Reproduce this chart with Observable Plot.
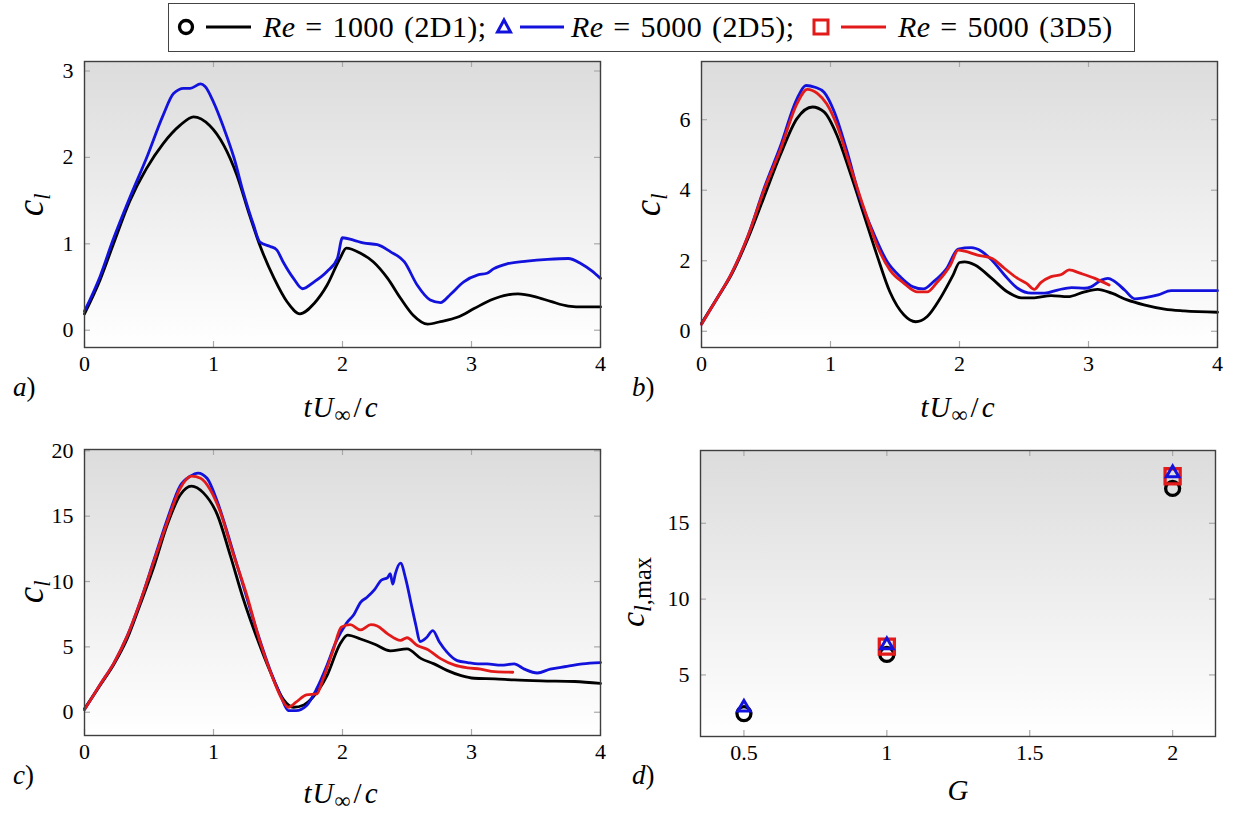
<!DOCTYPE html>
<html>
<head>
<meta charset="utf-8">
<script src="https://cdn.jsdelivr.net/npm/d3@7"></script>
<script src="https://cdn.jsdelivr.net/npm/@observablehq/plot@0.6"></script>
<style>
  body { margin: 0; background: #fff; }
  #fig { position: relative; width: 1233px; height: 814px; overflow: hidden; color: #000;
         font-family: "Liberation Serif", "DejaVu Serif", serif; }
  .panel { position: absolute; }
  .lbl { position: absolute; white-space: nowrap; line-height: 1; }
  .rot { transform: translate(-50%, -50%) rotate(-90deg); transform-origin: center; }
  .ctr { transform: translateX(-50%); }
  sub { font-size: 0.68em; vertical-align: baseline; position: relative; top: 0.3em; }
  #legend { position: absolute; left: 168px; top: 3px; width: 965px; height: 47px;
            border: 1.3px solid #444; background: #fff; }
  #legend .t { position: absolute; top: 8px; font-size: 30px; line-height: 1; white-space: nowrap;
               letter-spacing: 0.4px; word-spacing: 2px; }
  #legend svg { position: absolute; left: 0; top: 0; }
</style>
</head>
<body>
<div id="fig"></div>
<script>
// ---- lift coefficient histories, [tU/c, c_l] ----
// a) G = 0.5
const a_re1000_2d = [[0,0.19],[0.12,0.58],[0.22,0.98],[0.35,1.49],[0.48,1.87],[0.61,2.16],[0.74,2.37],[0.845,2.47],[0.97,2.37],[1.08,2.14],[1.18,1.80],[1.28,1.33],[1.36,0.98],[1.47,0.60],[1.57,0.33],[1.67,0.19],[1.78,0.31],[1.88,0.52],[1.98,0.83],[2.03,0.95],[2.14,0.89],[2.24,0.79],[2.35,0.60],[2.45,0.37],[2.55,0.17],[2.66,0.07],[2.76,0.10],[2.89,0.15],[3.02,0.25],[3.15,0.35],[3.28,0.41],[3.36,0.42],[3.49,0.39],[3.62,0.33],[3.75,0.28],[3.87,0.27],[4.0,0.27]];
const a_re5000_2d = [[0,0.22],[0.12,0.62],[0.22,1.04],[0.35,1.53],[0.48,1.99],[0.61,2.49],[0.69,2.74],[0.77,2.80],[0.82,2.80],[0.90,2.85],[0.935,2.82],[1.0,2.64],[1.08,2.34],[1.16,1.99],[1.23,1.60],[1.31,1.22],[1.36,1.02],[1.44,0.97],[1.49,0.93],[1.54,0.79],[1.62,0.60],[1.69,0.48],[1.78,0.56],[1.88,0.68],[1.96,0.83],[2.0,1.07],[2.09,1.04],[2.16,1.01],[2.27,0.99],[2.37,0.91],[2.48,0.79],[2.58,0.52],[2.68,0.35],[2.76,0.32],[2.84,0.42],[2.94,0.56],[3.05,0.64],[3.12,0.66],[3.17,0.71],[3.28,0.77],[3.43,0.80],[3.59,0.82],[3.75,0.83],[3.85,0.77],[3.93,0.69],[4.0,0.60]];

// b) G = 1
const b_re1000_2d = [[0,0.23],[0.12,0.93],[0.23,1.59],[0.36,2.63],[0.48,3.76],[0.61,4.99],[0.74,6.03],[0.86,6.36],[0.95,6.22],[1.05,5.56],[1.15,4.52],[1.26,3.29],[1.36,2.16],[1.46,1.12],[1.57,0.46],[1.66,0.27],[1.75,0.42],[1.85,0.93],[1.95,1.59],[2.0,1.95],[2.04,1.97],[2.12,1.88],[2.25,1.50],[2.37,1.12],[2.48,0.95],[2.58,0.95],[2.71,1.01],[2.84,0.98],[2.97,1.12],[3.07,1.19],[3.18,1.08],[3.30,0.89],[3.43,0.75],[3.59,0.63],[3.74,0.58],[4.0,0.54]];
const b_re5000_2d = [[0,0.2],[0.12,0.93],[0.23,1.62],[0.36,2.70],[0.485,4.05],[0.61,5.23],[0.74,6.59],[0.81,6.97],[0.88,6.92],[0.95,6.78],[1.03,6.22],[1.13,5.08],[1.23,3.76],[1.34,2.73],[1.44,1.97],[1.54,1.55],[1.64,1.26],[1.72,1.20],[1.80,1.41],[1.90,1.78],[1.99,2.33],[2.09,2.37],[2.17,2.27],[2.25,2.02],[2.35,1.59],[2.45,1.22],[2.56,1.08],[2.66,1.08],[2.76,1.17],[2.87,1.24],[2.97,1.22],[3.02,1.26],[3.10,1.45],[3.15,1.50],[3.20,1.42],[3.28,1.17],[3.36,0.92],[3.43,0.95],[3.54,1.03],[3.64,1.15],[3.80,1.15],[4.0,1.15]];
const b_re5000_3d = [[0,0.2],[0.12,0.93],[0.23,1.62],[0.36,2.70],[0.485,4.0],[0.61,5.13],[0.74,6.45],[0.82,6.86],[0.90,6.74],[0.97,6.45],[1.05,5.84],[1.15,4.71],[1.26,3.48],[1.36,2.44],[1.46,1.74],[1.57,1.36],[1.67,1.12],[1.75,1.12],[1.82,1.36],[1.93,1.88],[1.99,2.30],[2.04,2.27],[2.14,2.16],[2.25,2.07],[2.35,1.78],[2.45,1.50],[2.52,1.36],[2.58,1.19],[2.63,1.38],[2.71,1.55],[2.79,1.61],[2.85,1.74],[2.94,1.64],[3.05,1.50],[3.16,1.31]];

// c) G = 2
const c_re1000_2d = [[0,0.26],[0.12,2.04],[0.23,3.7],[0.33,5.6],[0.43,8.2],[0.54,11.2],[0.64,14.3],[0.74,16.6],[0.83,17.3],[0.92,16.8],[1.03,15.1],[1.13,12.0],[1.23,8.7],[1.34,5.6],[1.44,3.1],[1.54,1.0],[1.62,0.38],[1.70,0.56],[1.77,1.15],[1.88,2.8],[1.98,5.2],[2.04,5.9],[2.14,5.6],[2.25,5.2],[2.37,4.7],[2.50,4.85],[2.61,4.1],[2.71,3.7],[2.81,3.2],[2.92,2.8],[3.02,2.6],[3.18,2.55],[3.33,2.47],[3.54,2.4],[3.80,2.35],[4.0,2.2]];
const c_re5000_2d = [[0,0.2],[0.12,2.1],[0.23,3.8],[0.33,5.8],[0.43,8.4],[0.54,11.7],[0.64,14.7],[0.74,17.3],[0.82,18.06],[0.88,18.3],[0.95,17.9],[1.03,16.1],[1.13,13.0],[1.23,9.7],[1.34,6.1],[1.44,3.2],[1.52,1.3],[1.58,0.13],[1.64,0.13],[1.72,0.5],[1.80,1.8],[1.88,3.6],[1.95,5.4],[2.03,6.8],[2.09,7.5],[2.14,8.4],[2.19,8.8],[2.25,9.4],[2.30,10.1],[2.35,10.3],[2.37,10.6],[2.39,9.8],[2.41,10.6],[2.45,11.4],[2.49,10.2],[2.53,8.4],[2.57,6.6],[2.60,5.4],[2.65,5.7],[2.70,6.25],[2.75,5.4],[2.81,4.6],[2.89,3.95],[2.97,3.8],[3.05,3.7],[3.12,3.7],[3.23,3.6],[3.33,3.7],[3.41,3.3],[3.51,3.0],[3.61,3.3],[3.74,3.5],[3.86,3.7],[4.0,3.8]];
const c_re5000_3d = [[0,0.2],[0.12,2.1],[0.23,3.8],[0.33,5.8],[0.43,8.4],[0.54,11.6],[0.64,14.5],[0.74,17.1],[0.83,18.06],[0.90,17.9],[0.97,17.1],[1.05,15.4],[1.15,12.2],[1.26,8.9],[1.36,5.4],[1.46,2.6],[1.53,1.0],[1.58,0.38],[1.64,0.77],[1.72,1.33],[1.80,1.4],[1.85,2.55],[1.93,4.8],[1.99,6.5],[2.06,6.7],[2.14,6.3],[2.22,6.7],[2.27,6.6],[2.35,6.0],[2.45,5.5],[2.50,5.7],[2.58,5.1],[2.66,4.8],[2.76,4.1],[2.87,3.6],[2.97,3.4],[3.07,3.3],[3.18,3.1],[3.32,3.06]];

// d) peak lift coefficient against gust ratio G
const gustRatio = [0.5, 1, 2];
const clMax_re1000_2d = [2.45, 6.35, 17.3];
const clMax_re5000_2d = [2.85, 6.97, 18.3];
const gustRatio_3d = [1, 2];
const clMax_re5000_3d = [6.87, 18.1];

// axis ticks
const timeTicks = [0, 1, 2, 3, 4];
const yTicksA = [0, 1, 2, 3];
const yTicksB = [0, 2, 4, 6];
const yTicksC = [0, 5, 10, 15, 20];
const yTicksD = [5, 10, 15];
const gTicks = [0.5, 1, 1.5, 2];

const COL = { re1000: "#000000", re5000_2d: "#1212dc", re5000_3d: "#e31a1a" };
const LW = 2.8;
const FONT = '"Liberation Serif", "DejaVu Serif", serif';

const fig = document.getElementById("fig");

function curve(data, stroke) {
  return Plot.line(data, { x: d => d[0], y: d => d[1], stroke, strokeWidth: LW, curve: "monotone-x", strokeLinejoin: "round" });
}

function makePanel(cfg) {
  const { id, left, top, width, height, ml, mr, mt, mb, xDomain, yDomain, xTicks, yTicks, marks } = cfg;
  const pw = width - ml - mr, ph = height - mt - mb;
  const tickCol = "#a9a9a9", tl = 6;
  const svg = Plot.plot({
    width, height, marginLeft: ml, marginRight: mr, marginTop: mt, marginBottom: mb,
    style: { fontFamily: FONT, fontSize: "22px", background: "transparent", color: "#000", overflow: "visible" },
    x: { domain: xDomain, label: null },
    y: { domain: yDomain, label: null },
    marks: [
      Plot.frame({ fill: `url(#${id}-bg)`, stroke: null }),
      Plot.tickX(xTicks, { x: d => d, stroke: tickCol, strokeWidth: 1.2, insetBottom: ph - tl }),
      Plot.tickX(xTicks, { x: d => d, stroke: tickCol, strokeWidth: 1.2, insetTop: ph - tl }),
      Plot.tickY(yTicks, { y: d => d, stroke: tickCol, strokeWidth: 1.2, insetRight: pw - tl }),
      Plot.tickY(yTicks, { y: d => d, stroke: tickCol, strokeWidth: 1.2, insetLeft: pw - tl }),
      Plot.axisX({ ticks: xTicks, tickSize: 0, tickPadding: 8, label: null, tickFormat: d => String(d) }),
      Plot.axisY({ ticks: yTicks, tickSize: 0, tickPadding: 11, label: null, tickFormat: d => String(d) }),
      ...marks,
      Plot.frame({ stroke: "#3f3f3f", strokeWidth: 1.4 })
    ]
  });
  const ns = "http://www.w3.org/2000/svg";
  const defs = document.createElementNS(ns, "defs");
  defs.innerHTML = `<linearGradient id="${id}-bg" x1="0" y1="0" x2="0" y2="1">
      <stop offset="0" stop-color="#dcdcdc"/><stop offset="1" stop-color="#ffffff"/></linearGradient>`;
  svg.insertBefore(defs, svg.firstChild);
  const wrap = document.createElement("div");
  wrap.className = "panel";
  wrap.style.left = left + "px";
  wrap.style.top = top + "px";
  wrap.appendChild(svg);
  fig.appendChild(wrap);
}

makePanel({
  id: "pa", left: 0, top: 40, width: 616, height: 340, ml: 84, mr: 16, mt: 21, mb: 33,
  xDomain: [0, 4], yDomain: [-0.2, 3.11], xTicks: timeTicks, yTicks: yTicksA,
  marks: [curve(a_re1000_2d, COL.re1000), curve(a_re5000_2d, COL.re5000_2d)]
});
makePanel({
  id: "pb", left: 616, top: 40, width: 617, height: 340, ml: 85, mr: 16, mt: 21, mb: 33,
  xDomain: [0, 4], yDomain: [-0.46, 7.65], xTicks: timeTicks, yTicks: yTicksB,
  marks: [curve(b_re1000_2d, COL.re1000), curve(b_re5000_2d, COL.re5000_2d), curve(b_re5000_3d, COL.re5000_3d)]
});
makePanel({
  id: "pc", left: 0, top: 430, width: 616, height: 340, ml: 84, mr: 16, mt: 19, mb: 35,
  xDomain: [0, 4], yDomain: [-1.78, 20.1], xTicks: timeTicks, yTicks: yTicksC,
  marks: [curve(c_re1000_2d, COL.re1000), curve(c_re5000_2d, COL.re5000_2d), curve(c_re5000_3d, COL.re5000_3d)]
});
makePanel({
  id: "pd", left: 616, top: 430, width: 617, height: 340, ml: 84, mr: 18, mt: 20, mb: 34,
  xDomain: [0.348, 2.15], yDomain: [0.94, 19.8], xTicks: gTicks, yTicks: yTicksD,
  marks: [
    Plot.dot(gustRatio, { x: d => d, y: (d, i) => clMax_re1000_2d[i], symbol: "circle", r: 7, stroke: COL.re1000, strokeWidth: 3.3, fill: "none" }),
    Plot.dot(gustRatio_3d, { x: d => d, y: (d, i) => clMax_re5000_3d[i], symbol: "square", r: 8.5, stroke: COL.re5000_3d, strokeWidth: 3.3, fill: "none" }),
    Plot.dot(gustRatio, { x: d => d, y: (d, i) => clMax_re5000_2d[i], symbol: "triangle", r: 4.6, stroke: COL.re5000_2d, strokeWidth: 3, fill: "none" })
  ]
});

// ---- text labels ----
function label(html, x, baseline, size, cls, extra) {
  const el = document.createElement("div");
  el.className = "lbl " + (cls || "");
  el.style.fontSize = size + "px";
  el.style.left = x + "px";
  el.style.top = (baseline - 0.84 * size) + "px";
  if (extra) Object.assign(el.style, extra);
  el.innerHTML = html;
  fig.appendChild(el);
  return el;
}
function ylabel(html, cx, cy, size) {
  const el = document.createElement("div");
  el.className = "lbl rot";
  el.style.fontSize = size + "px";
  el.style.left = cx + "px";
  el.style.top = cy + "px";
  el.innerHTML = html;
  fig.appendChild(el);
}

const timeLabel = '<i>tU</i><sub style="font-size:0.78em;top:0.25em">∞</sub><span style="margin:0 2px">/</span><i>c</i>';
const spaced = { letterSpacing: "1px" };
label(timeLabel, 341, 417, 29, "ctr", spaced);
label(timeLabel, 958, 417, 29, "ctr", spaced);
label(timeLabel, 341, 803, 29, "ctr", spaced);
label('<i>G</i>', 958, 800, 29, "ctr");

const clLabel = '<i>c</i><sub style="font-size:0.6em;top:0.32em"><i>l</i></sub>';
ylabel(clLabel, 30, 205, 37);
ylabel(clLabel, 647, 205, 37);
ylabel(clLabel, 30, 592, 37);
ylabel('<i>c</i><sub style="font-size:0.72em;top:0.3em"><i>l</i>,max</sub>', 633, 592, 34);

label('<i>a</i>)', 13, 397, 27);
label('<i>b</i>)', 632, 397, 27);
label('<i>c</i>)', 13, 785, 27);
label('<i>d</i>)', 632, 785, 27);

// ---- legend ----
const legend = document.createElement("div");
legend.id = "legend";
legend.innerHTML = `
<svg width="965" height="47">
  <circle cx="17" cy="23" r="6.5" fill="none" stroke="${COL.re1000}" stroke-width="3.3"/>
  <line x1="37" x2="82" y1="23" y2="23" stroke="${COL.re1000}" stroke-width="3"/>
  <path d="M335,16 L341.5,28 L328.5,28 Z" fill="none" stroke="${COL.re5000_2d}" stroke-width="3" stroke-linejoin="miter"/>
  <line x1="351" x2="395" y1="23" y2="23" stroke="${COL.re5000_2d}" stroke-width="3"/>
  <rect x="645" y="16" width="14" height="14" fill="none" stroke="${COL.re5000_3d}" stroke-width="3"/>
  <line x1="672" x2="717" y1="23" y2="23" stroke="${COL.re5000_3d}" stroke-width="3"/>
</svg>
<span class="t" style="left:94px"><i>Re</i> = 1000 (2D1);</span>
<span class="t" style="left:402px"><i>Re</i> = 5000 (2D5);</span>
<span class="t" style="left:729px"><i>Re</i> = 5000 (3D5)</span>`;
fig.appendChild(legend);
</script>
</body>
</html>
